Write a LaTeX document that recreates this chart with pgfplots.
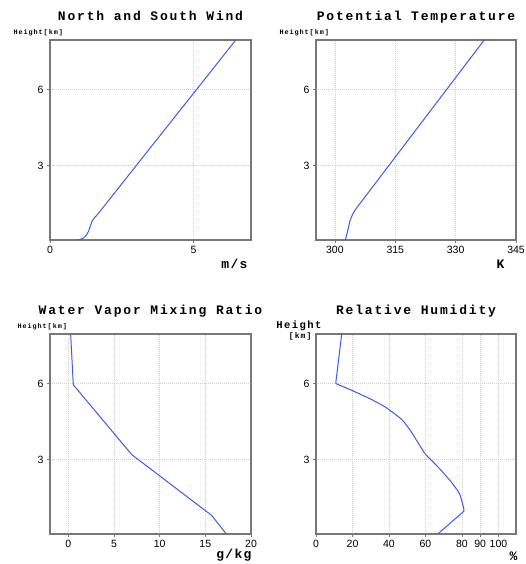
\documentclass[border=0pt]{standalone}
\usepackage{fontspec}
\setmainfont{Liberation Sans}
\newfontfamily\tf[LetterSpace=14]{Liberation Mono}
\newfontfamily\tfs[LetterSpace=10]{Liberation Mono}
\usepackage{pgfplots}
\pgfplotsset{compat=1.18}
\definecolor{lineblue}{RGB}{60,90,230}
\definecolor{framegray}{RGB}{120,120,120}
\definecolor{gridgray}{RGB}{205,205,205}
\pgfplotsset{
 myax/.style={
  scale only axis, width=200pt, height=200pt, anchor=south west,
  ymin=0.07, ymax=7.95, ytick={3,6},
  axis line style={framegray, line width=1.1pt},
  tick align=outside, tick pos=left, major tick length=3pt,
  tick style={framegray, line width=0.7pt},
  grid=major, major grid style={dash pattern=on 0.6pt off 1.4pt, gridgray, line width=0.6pt},
  /pgf/number format/assume math mode=true,
  tick label style={font=\fontsize{10.5}{12}\selectfont},
  clip=false,
 },
}
\tikzset{
 ttl/.style={anchor=base, font=\tf\bfseries\fontsize{13}{15}\selectfont},
 unit/.style={anchor=base east, font=\tfs\bfseries\fontsize{13}{15}\selectfont},
 hk/.style={anchor=base west, font=\tf\bfseries\fontsize{6.8}{8}\selectfont},
}
\begin{document}
\begin{tikzpicture}
\path[use as bounding box] (0,0) rectangle (526pt,-564pt);
% Panel 1
\begin{axis}[myax, at={(50pt,-240pt)}, width=201pt, xmin=0, xmax=7, xtick={0,5}]
\addplot[lineblue, line width=1pt] coordinates {
(0.93,0.07) (1.05,0.09) (1.17,0.15) (1.27,0.27) (1.34,0.41) (1.40,0.60) (1.46,0.80) (1.55,0.95) (1.65,1.07) (6.47,7.95)};
\node[ttl] at (rel axis cs:0.5,1) [yshift=19pt] {North and South Wind};
\node[hk] at (rel axis cs:0,1) [xshift=-40pt, yshift=5.5pt] {Height[km]};
\node[unit] at (rel axis cs:1,0) [yshift=-28pt] {m/s};
\end{axis}
% Panel 2
\begin{axis}[myax, at={(316pt,-240pt)}, xmin=295.3, xmax=345, xtick={300,315,330,345}]
\addplot[lineblue, line width=1pt] coordinates {
(302.6,0.07) (303.2,0.45) (303.7,0.80) (304.3,1.05) (305.0,1.25) (337.1,7.95)};
\node[ttl] at (rel axis cs:0.5,1) [yshift=19pt] {Potential Temperature};
\node[hk] at (rel axis cs:0,1) [xshift=-40pt, yshift=5.5pt] {Height[km]};
\node[unit] at (rel axis cs:1,0) [xshift=-8pt, yshift=-28pt] {K};
\end{axis}
% Panel 3
\begin{axis}[myax, at={(50pt,-534pt)}, width=201pt, xmin=-2, xmax=20, xtick={0,5,10,15,20}]
\addplot[lineblue, line width=1pt] coordinates {
(17.3,0.07) (15.7,0.80) (6.94,3.20) (0.55,5.95) (0.26,7.95)};
\node[ttl] at (rel axis cs:0.5,1) [yshift=19pt] {Water Vapor Mixing Ratio};
\node[hk] at (rel axis cs:0,1) [xshift=-36pt, yshift=5.7pt] {Height[km]};
\node[unit] at (rel axis cs:1,0) [xshift=4pt, yshift=-24.5pt] {g/kg};
\end{axis}
% Panel 4
\begin{axis}[myax, at={(316pt,-534pt)}, xmin=0, xmax=109.6, xtick={0,20,40,60,80,90,100}]
\addplot[lineblue, line width=1pt] coordinates {
(66.7,0.07) (79.8,0.89)};
\addplot[lineblue, line width=1pt, smooth, tension=0.35] coordinates {
(79.8,0.89) (81.1,0.98) (80.7,1.15) (78.7,1.65) (74.2,2.11) (67.8,2.64) (59.6,3.24)};
\addplot[lineblue, line width=1pt, smooth, tension=0.4] coordinates {
(59.6,3.24) (55.0,3.77) (52.8,4.03) (47.3,4.56) (38.2,5.06) (29.0,5.42) (19.9,5.72) (10.8,6.0)};
\addplot[lineblue, line width=1pt] coordinates {
(10.8,6.0) (14.1,7.95)};
\node[ttl] at (rel axis cs:0.5,1) [yshift=19pt] {Relative Humidity};
\node[anchor=base east, font=\tf\bfseries\fontsize{10.5}{12}\selectfont] at (rel axis cs:0,1) [xshift=9pt, yshift=5.7pt] {Height};
\node[anchor=base east, font=\tf\bfseries\fontsize{8}{10}\selectfont] at (rel axis cs:0,1) [xshift=-1pt, yshift=-4.3pt] {[km]};
\node[unit] at (rel axis cs:1,0) [xshift=5pt, yshift=-26pt] {\%};
\end{axis}
\end{tikzpicture}
\end{document}
